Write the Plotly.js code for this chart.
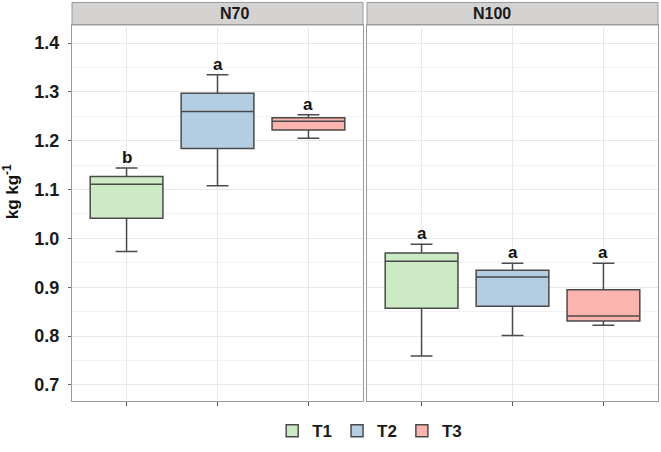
<!DOCTYPE html>
<html>
<head>
<meta charset="utf-8">
<script src="https://cdn.plot.ly/plotly-3.0.1.min.js"></script>
<style>html,body{margin:0;padding:0;background:#fff}#chart{width:661px;height:452px}</style>
</head>
<body>
<div id="chart"></div>
<script>
// Data
const panels = ['N70', 'N100'];
const treatments = ['T1', 'T2', 'T3'];
const colors = ['#CCEBC5', '#B3CDE3', '#FBB4AE'];
const yTitle = 'kg kg<sup>-1</sup>';

// N70 panel: per treatment
const n70_lower  = [0.973, 1.108, 1.205];
const n70_q1     = [1.041, 1.184, 1.222];
const n70_median = [1.111, 1.260, 1.240];
const n70_q3     = [1.127, 1.297, 1.247];
const n70_upper  = [1.144, 1.335, 1.253];
const n70_letters = ['b', 'a', 'a'];

// N100 panel: per treatment
const n100_lower  = [0.759, 0.801, 0.822];
const n100_q1     = [0.857, 0.861, 0.831];
const n100_median = [0.953, 0.921, 0.841];
const n100_q3     = [0.970, 0.935, 0.895];
const n100_upper  = [0.988, 0.949, 0.949];
const n100_letters = ['a', 'a', 'a'];

const FONT = 'Liberation Sans, Arial, Helvetica, sans-serif';
const lineCol = '#4a4a4a';

const panelData = [
  {lower: n70_lower, q1: n70_q1, median: n70_median, q3: n70_q3, upper: n70_upper, letters: n70_letters, xa: 'x', ya: 'y'},
  {lower: n100_lower, q1: n100_q1, median: n100_median, q3: n100_q3, upper: n100_upper, letters: n100_letters, xa: 'x2', ya: 'y2'}
];

const traces = [];
const annotations = [];
panelData.forEach((p, pi) => {
  treatments.forEach((t, i) => {
    traces.push({
      type: 'box',
      name: t,
      legendgroup: t,
      showlegend: pi === 0,
      x: [t],
      q1: [p.q1[i]], median: [p.median[i]], q3: [p.q3[i]],
      lowerfence: [p.lower[i]], upperfence: [p.upper[i]],
      width: 0.8,
      whiskerwidth: 0.3,
      fillcolor: colors[i],
      line: {color: lineCol, width: 1.5},
      boxpoints: false,
      hoverinfo: 'skip',
      xaxis: p.xa, yaxis: p.ya
    });
    annotations.push({
      xref: p.xa, yref: p.ya, x: t, y: p.upper[i] + 0.022,
      text: '<b>' + p.letters[i] + '</b>', showarrow: false,
      yanchor: 'middle', font: {family: FONT, size: 17, color: '#111'}
    });
  });
});

// strip labels
const dom1 = [0, 291/586], dom2 = [295/586, 1];
[dom1, dom2].forEach((d, k) => {
  annotations.push({
    xref: 'paper', yref: 'paper', x: (d[0] + d[1]) / 2, y: 1 + 11.5/384,
    text: '<b>' + panels[k] + '</b>', showarrow: false, yanchor: 'middle',
    font: {family: FONT, size: 16, color: '#1a1a1a'}
  });
});

// y-axis title (placed as in the reference)
annotations.push({
  xref: 'paper', yref: 'paper', x: -61/586, y: 0.555, xanchor: 'center', yanchor: 'middle',
  text: '<b>' + yTitle + '</b>', textangle: -90, showarrow: false,
  font: {family: FONT, size: 17, color: '#111'}
});

const shapes = [dom1, dom2].map(d => ({
  type: 'rect', xref: 'paper', yref: 'paper', x0: d[0], x1: d[1], y0: 1, y1: 1 + 23/384,
  fillcolor: '#d5d2d2', line: {color: '#9a9a9a', width: 1}, layer: 'below'
}));

const xaxisBase = {
  type: 'category', categoryorder: 'array', categoryarray: treatments,
  range: [-0.6, 2.6], showticklabels: false, ticks: 'outside', ticklen: 4,
  tickcolor: '#555', showgrid: true, gridcolor: '#e8e8e8', gridwidth: 1,
  showline: true, mirror: true, linecolor: '#9a9a9a', linewidth: 1, zeroline: false, fixedrange: true
};
const yaxisBase = {
  range: [0.667, 1.437], dtick: 0.1, tick0: 0, showgrid: true, gridcolor: '#e8e8e8', gridwidth: 1,
  minor: {dtick: 0.05, tick0: 0, showgrid: true, gridcolor: '#f2f2f2', gridwidth: 1},
  showline: true, mirror: true, linecolor: '#9a9a9a', linewidth: 1, zeroline: false,
  tickformat: '.1f'
};

const layout = {
  width: 661, height: 452,
  margin: {l: 72, r: 3, t: 25, b: 43},
  paper_bgcolor: '#ffffff', plot_bgcolor: '#ffffff',
  font: {family: FONT, color: '#1a1a1a'},
  boxmode: 'overlay',
  xaxis: Object.assign({}, xaxisBase, {domain: dom1, anchor: 'y'}),
  xaxis2: Object.assign({}, xaxisBase, {domain: dom2, anchor: 'y2'}),
  yaxis: Object.assign({}, yaxisBase, {
    anchor: 'x',
    ticks: 'outside', ticklen: 3, tickcolor: '#666',
    ticklabelstandoff: 5,
    tickfont: {family: FONT, size: 18, color: '#1a1a1a', weight: 'bold'}
  }),
  yaxis2: Object.assign({}, yaxisBase, {anchor: 'x2', matches: 'y', showticklabels: false, ticks: ''}),
  showlegend: true,
  legend: {
    orientation: 'h', x: 0.508, xanchor: 'center', y: -0.08, yanchor: 'middle',
    font: {family: FONT, size: 17, color: '#1a1a1a', weight: 'bold'},
    itemwidth: 30, tracegroupgap: 0
  },
  annotations: annotations,
  shapes: shapes
};

Plotly.newPlot('chart', traces, layout, {displayModeBar: false, staticPlot: true});
</script>
</body>
</html>
